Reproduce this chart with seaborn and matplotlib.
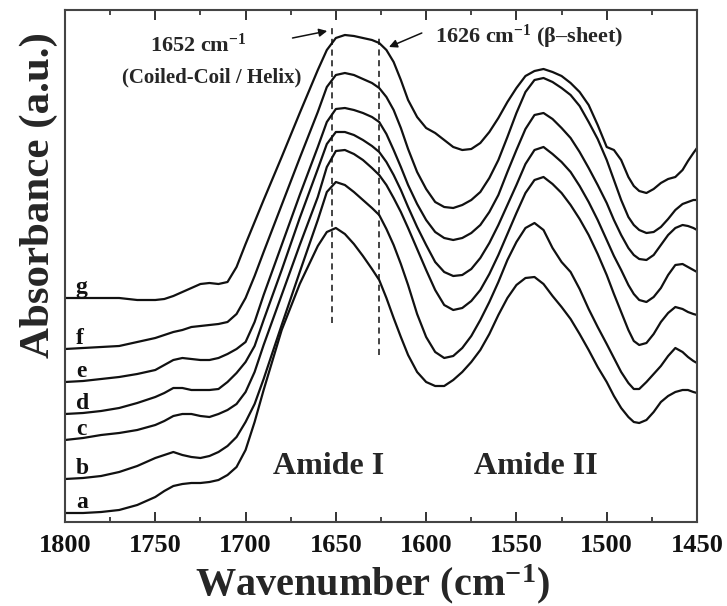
import numpy as np
import pandas as pd
import matplotlib
matplotlib.use("Agg")
import matplotlib.pyplot as plt
import seaborn as sns

# ---------------- data ----------------
wavenumber = [1800, 1790, 1780, 1770, 1760, 1750,
              1745, 1740, 1735, 1730, 1725, 1720, 1715, 1710, 1705, 1700,
              1695, 1690, 1680, 1670, 1660,
              1655, 1650, 1645, 1640, 1635, 1630, 1626, 1622, 1618, 1614, 1610,
              1605, 1600, 1595, 1590, 1585, 1580, 1575, 1570, 1565, 1560,
              1555, 1550, 1545, 1540, 1535, 1530, 1525, 1520, 1515, 1510,
              1505, 1500, 1496, 1492, 1488, 1485, 1482, 1478, 1474, 1470,
              1466, 1462, 1458, 1455, 1452, 1450]

# stacked absorbance traces (arbitrary units, vertically offset)
abs_a = [9, 9, 10, 12, 17, 25,
         31, 36, 38, 39, 39, 40, 42, 47, 55, 72,
         100, 132, 192, 238, 276,
         290, 294, 288, 278, 266, 253, 242, 224, 204, 185, 167,
         150, 140, 136, 136, 142, 150, 160, 172, 188, 207,
         224, 237, 244, 245, 238, 226, 215, 203, 188, 172,
         155, 140, 126, 114, 105, 100, 99, 102, 110, 120,
         126, 130, 132, 132, 130, 129]
abs_b = [43, 44, 46, 50, 56, 64,
         67, 70, 67, 65, 64, 66, 70, 76, 85, 100,
         118, 143, 197, 250, 302,
         330, 340, 337, 330, 322, 314, 307, 293, 277, 258, 237,
         208, 185, 170, 164, 166, 174, 186, 202, 220, 240,
         262, 280, 294, 299, 292, 274, 260, 250, 233, 213,
         195, 178, 164, 150, 139, 133, 133, 140, 148, 156,
         166, 174, 170, 165, 161, 159]
abs_c = [82, 84, 87, 89, 92, 97,
         101, 106, 108, 108, 106, 105, 108, 112, 118, 130,
         150, 177, 227, 277, 325,
         355, 371, 372, 368, 362, 354, 347, 337, 324, 310, 294,
         273, 252, 232, 217, 212, 214, 221, 232, 248, 267,
         288, 309, 329, 342, 345, 338, 329, 317, 303, 287,
         268, 247, 228, 210, 192, 181, 177, 179, 188, 200,
         209, 215, 213, 210, 208, 207]
abs_d = [108, 109, 111, 114, 119, 125,
         129, 134, 134, 132, 132, 132, 133, 140, 149, 160,
         176, 202, 252, 304, 353,
         378, 390, 390, 387, 382, 376, 370, 360, 347, 332, 315,
         295, 277, 260, 250, 246, 247, 253, 264, 279, 297,
         317, 337, 358, 372, 375, 368, 360, 350, 336, 320,
         302, 282, 266, 252, 237, 228, 222, 220, 225, 234,
         247, 257, 258, 255, 252, 250]
abs_e = [140, 141, 143, 145, 148, 152,
         157, 162, 164, 163, 162, 162, 164, 168, 173, 180,
         200, 227, 277, 327, 375,
         400, 413, 414, 412, 409, 405, 400, 388, 372, 355, 337,
         318, 302, 290, 284, 282, 284, 289, 297, 310, 327,
         350, 372, 393, 407, 409, 403, 394, 384, 370, 354,
         337, 319, 302, 287, 274, 267, 263, 262, 267, 277,
         287, 294, 297, 296, 294, 292]
abs_f = [173, 174, 175, 176, 180, 184,
         187, 190, 192, 195, 196, 197, 198, 200, 208, 224,
         246, 270, 317, 364, 410,
         435, 447, 449, 447, 443, 439, 434, 425, 412, 394, 373,
         350, 333, 320, 315, 314, 317, 322, 330, 344, 362,
         385, 409, 430, 442, 444, 440, 434, 427, 416, 400,
         383, 362, 342, 322, 305, 297, 292, 289, 290, 295,
         303, 312, 318, 320, 322, 322]
abs_g = [224, 224, 224, 224, 222, 222,
         223, 226, 230, 234, 238, 239, 238, 240, 255, 278,
         300, 322, 365, 409, 452,
         472, 484, 487, 486, 484, 482, 479, 472, 460, 442, 422,
         405, 394, 389, 382, 375, 372, 373, 379, 390, 404,
         420, 434, 446, 451, 453, 450, 446, 439, 430, 417,
         397, 375, 372, 362, 345, 336, 331, 329, 333, 339,
         343, 345, 352, 361, 369, 374]

sample_labels = ["a", "b", "c", "d", "e", "f", "g"]
traces = [abs_a, abs_b, abs_c, abs_d, abs_e, abs_f, abs_g]

x_ticks = [1800, 1750, 1700, 1650, 1600, 1550, 1500, 1450]
helix_band = 1652
sheet_band = 1626

# ---------------- build long-form table ----------------
rows = []
for lab, tr in zip(sample_labels, traces):
    for w, v in zip(wavenumber, tr):
        rows.append((lab, w, v))
df = pd.DataFrame(rows, columns=["sample", "wavenumber", "absorbance"])

# ---------------- style ----------------
sns.set_style("ticks")
plt.rcParams["font.family"] = ["Liberation Serif", "DejaVu Serif"]
plt.rcParams["font.weight"] = "bold"
plt.rcParams["mathtext.fontset"] = "custom"
plt.rcParams["mathtext.rm"] = "Liberation Serif:bold"
plt.rcParams["mathtext.it"] = "Liberation Serif:bold"
plt.rcParams["mathtext.bf"] = "Liberation Serif:bold"
plt.rcParams["mathtext.default"] = "rm"

fig = plt.figure(figsize=(7.27, 6.06), dpi=100)
ax = fig.add_axes([65 / 727, 84 / 606, 632 / 727, 512 / 606])

sns.lineplot(data=df, x="wavenumber", y="absorbance", hue="sample",
             palette=["#111111"] * len(sample_labels), estimator=None,
             sort=False, legend=False, linewidth=1.6, ax=ax)

ax.set_xlim(1800, 1450)
ax.set_ylim(0, 512)

# band markers
ax.plot([helix_band, helix_band], [199, 494], color="#111111", lw=1.1,
        dashes=(4, 3))
ax.plot([sheet_band, sheet_band], [167, 487], color="#111111", lw=1.1,
        dashes=(4, 3))

# sample letters at the left end of each trace
for lab, tr in zip(sample_labels, traces):
    ax.text(1794, tr[0] + 5, lab, fontsize=17, fontweight="bold",
            ha="left", va="baseline", color="#111111")

# annotations
ax.text(1726, 477, r"1652 cm$^{-1}$", fontsize=16, ha="center", va="center",
        fontweight="bold")
ax.text(1719, 445, "(Coiled-Coil / Helix)", fontsize=15, ha="center",
        va="center", fontweight="bold")
ax.text(1595, 485, r"1626 cm$^{-1}$ ($\beta$–sheet)", fontsize=16, ha="left",
        va="center", fontweight="bold")
ax.annotate("", xy=(1654.8, 491), xytext=(1674, 484),
            arrowprops=dict(arrowstyle="-|>", color="#111111", lw=1.1,
                            mutation_scale=12, shrinkA=0, shrinkB=0))
ax.annotate("", xy=(1620.6, 475), xytext=(1602.4, 489),
            arrowprops=dict(arrowstyle="-|>", color="#111111", lw=1.1,
                            mutation_scale=12, shrinkA=0, shrinkB=0))

ax.text(1654, 55, "Amide I", fontsize=23, ha="center", va="center",
        fontweight="bold")
ax.text(1539, 55, "Amide II", fontsize=23, ha="center", va="center",
        fontweight="bold")

# axes
ax.set_xticks(x_ticks)
ax.set_xticklabels([str(t) for t in x_ticks])
ax.xaxis.set_minor_locator(matplotlib.ticker.MultipleLocator(25))
ax.tick_params(axis="x", which="major", direction="in", length=7, width=1.2,
               top=True, bottom=True, labelsize=19, pad=9, colors="#111111")
ax.tick_params(axis="x", which="minor", direction="in", length=3.6, width=1.2,
               top=True, bottom=True)
ax.set_yticks([])
for lbl in ax.get_xticklabels():
    lbl.set_fontweight("bold")
for s in ax.spines.values():
    s.set_visible(True)
    s.set_linewidth(1.5)
    s.set_color("#444444")

ax.set_xlabel(r"Wavenumber (cm$^{-1}$)", fontsize=29, fontweight="bold")
ax.xaxis.set_label_coords(0.487, -0.078)
ax.set_ylabel("Absorbance (a.u.)", fontsize=31, fontweight="bold")
ax.yaxis.set_label_coords(-0.011, 0.639)

fig.savefig("out.png", dpi=100)
